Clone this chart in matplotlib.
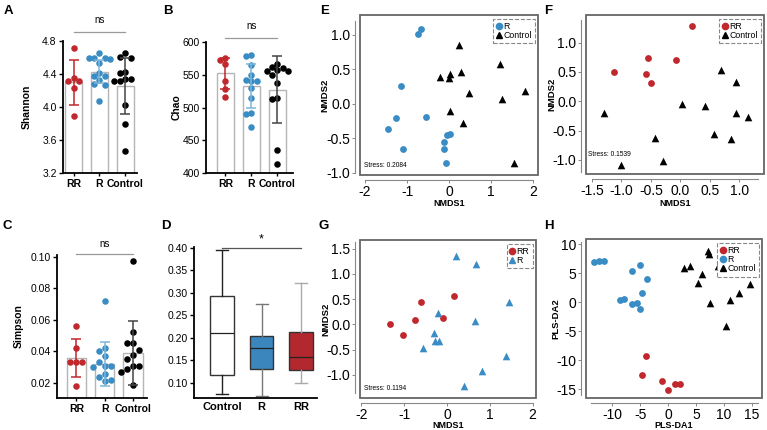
import numpy as np
import matplotlib
matplotlib.use('Agg')
import matplotlib.pyplot as plt
from matplotlib.patches import Rectangle
from matplotlib.lines import Line2D

plt.rcParams['font.family'] = ['Liberation Sans', 'DejaVu Sans']

RED = '#c0282e'
BLUE = '#3a8cc4'
GREY_TXT = '#333333'

#------------------------------------
# Alpha diversity (A-C): groups RR, R, Control
groups = ['RR', 'R', 'Control']

shannon_rr = [4.72, 4.35, 4.31, 4.31, 4.23, 3.89]
shannon_r = [4.65, 4.60, 4.60, 4.59, 4.58, 4.53, 4.41, 4.38, 4.37, 4.33, 4.28, 4.27, 4.07]
shannon_ctrl = [4.66, 4.61, 4.59, 4.42, 4.41, 4.34, 4.32, 4.34, 4.32, 4.02, 3.79, 3.47]
shannon_mean = [4.30, 4.43, 4.26]
shannon_sd = [0.27, 0.14, 0.34]

chao_rr = [576, 572, 567, 540, 529, 516]
chao_r = [580, 578, 565, 550, 542, 541, 540, 530, 515, 492, 490, 470]
chao_ctrl = [566, 562, 560, 557, 556, 555, 550, 537, 515, 513, 435, 414]
chao_mean = [552, 533, 527]
chao_sd = [24, 34, 51]

simpson_rr = [0.0558, 0.0421, 0.033, 0.033, 0.033, 0.0183]
simpson_r = [0.0716, 0.042, 0.040, 0.037, 0.033, 0.031, 0.031, 0.030, 0.026, 0.024, 0.022, 0.021]
simpson_ctrl = [0.097, 0.052, 0.045, 0.045, 0.041, 0.038, 0.035, 0.031, 0.031, 0.029, 0.027, 0.019]
simpson_mean = [0.0358, 0.032, 0.039]
simpson_sd = [0.0123, 0.0142, 0.0205]

#------------------------------------
# Box plot (D)
box_groups = ['Control', 'R', 'RR']
box_whislo = [0.076, 0.071, 0.099]
box_q1 = [0.118, 0.130, 0.129]
box_med = [0.211, 0.177, 0.157]
box_q3 = [0.293, 0.205, 0.213]
box_whishi = [0.396, 0.275, 0.322]

#------------------------------------
# Ordinations (E-H)
e_r_x = [-0.67, -0.75, -1.14, -1.27, -1.46, -0.55, -1.10, 0.02, -0.05, -0.13, -0.11, -0.06]
e_r_y = [1.09, 1.02, 0.26, -0.21, -0.36, -0.19, -0.65, -0.44, -0.45, -0.55, -0.65, -0.85]
e_c_x = [0.23, 1.21, 0.29, 0.02, -0.21, 0.01, 1.82, 0.47, 1.27, 0.02, 0.34, 1.55]
e_c_y = [0.85, 0.58, 0.47, 0.44, 0.39, 0.37, 0.19, 0.16, 0.07, -0.10, -0.28, -0.86]

f_rr_x = [0.19, -0.54, -0.08, -1.12, -0.59, -0.50]
f_rr_y = [1.28, 0.73, 0.71, 0.50, 0.46, 0.31]
f_c_x = [0.69, 0.94, 0.03, 0.42, -1.30, 0.95, 1.15, 0.57, 0.86, -0.43, -0.29, -1.01]
f_c_y = [0.53, 0.32, -0.04, -0.08, -0.20, -0.20, -0.26, -0.56, -0.64, -0.62, -1.02, -1.08]

g_rr_x = [0.16, -0.61, -0.75, -0.09, -1.34, -1.02]
g_rr_y = [0.57, 0.44, 0.09, 0.12, 0.01, -0.22]
g_r_x = [0.22, 0.68, 1.44, -0.20, 0.66, -0.30, -0.29, -0.19, -0.55, 1.38, 0.81, 0.41]
g_r_y = [1.36, 1.20, 0.45, 0.22, 0.06, -0.17, -0.33, -0.33, -0.46, -0.63, -0.92, -1.22]

h_rr_x = [-4.0, -4.75, -1.07, 2.14, 1.25, -0.1]
h_rr_y = [-9.3, -12.65, -13.7, -14.1, -14.2, -15.2]
h_r_x = [-13.4, -12.4, -11.5, -5.0, -6.5, -3.75, -4.8, -8.6, -8.0, -6.5, -5.6, -5.1]
h_r_y = [7.0, 7.1, 7.1, 6.4, 5.3, 4.0, 1.6, 0.34, 0.52, -0.24, -0.12, -1.1]
h_c_x = [7.09, 7.3, 2.86, 3.93, 8.87, 6.07, 5.3, 14.6, 12.6, 11.1, 7.45, 10.3]
h_c_y = [8.85, 8.3, 5.86, 6.26, 6.3, 4.88, 3.27, 3.2, 1.66, 0.4, -0.07, -4.2]

W, H = 767, 430
fig = plt.figure(figsize=(W / 100, H / 100), dpi=100)


def add_ax(left, top, right, bottom):
    return fig.add_axes([left / W, 1 - bottom / H, (right - left) / W, (bottom - top) / H])


def swarm(vals, step, gap):
    vals = np.asarray(vals, dtype=float)
    offs = np.zeros(len(vals))
    placed = []
    for i in np.argsort(-vals, kind='stable'):
        for k in [0, -1, 1, -2, 2, -3, 3]:
            o = k * step
            if all(abs(vals[i] - vals[j]) >= gap or abs(o - offs[j]) >= step * 0.99 for j in placed):
                offs[i] = o
                break
        placed.append(i)
    return offs


def bar_panel(ax, data, means, sds, ylim, yticks, ylabel, xlim, labx, ns_y, line_y, ytick_fmt):
    cols = [RED, BLUE, 'black']
    ecols = [RED, '#7fb6da', '#444444']
    x = np.arange(3)
    ax.bar(x, means, width=0.68, color='white', edgecolor='#b5b5b5', linewidth=1.0, zorder=1)
    gap = (ylim[1] - ylim[0]) * 0.045
    for i, vals in enumerate(data):
        offs = swarm(vals, 0.21, gap)
        ax.scatter(x[i] + offs, vals, s=22, color=cols[i], zorder=3, linewidths=0)
        ax.errorbar(x[i], means[i], yerr=sds[i], color=ecols[i], capsize=3.5,
                    elinewidth=1.1, capthick=1.1, zorder=4)
    ax.set_xlim(*xlim)
    ax.set_ylim(*ylim)
    ax.set_yticks(yticks)
    ax.set_yticklabels([ytick_fmt.format(t) for t in yticks], fontsize=7.5)
    ax.set_xticks(x)
    ax.set_xticklabels(groups, fontsize=7.5, fontweight='bold')
    ax.tick_params(axis='x', length=2.5, width=1, pad=2)
    ax.tick_params(axis='y', length=3, width=1, pad=1.5)
    for s in ['top', 'right']:
        ax.spines[s].set_visible(False)
    for s in ['left', 'bottom']:
        ax.spines[s].set_linewidth(1.3)
    ax.set_ylabel(ylabel, fontsize=7.5, fontweight='bold')
    ax.yaxis.set_label_coords(labx, 0.5)
    tr = ax.get_xaxis_transform()
    ax.plot([0, 2], [line_y, line_y], color='#999999', lw=0.9, transform=tr, clip_on=False)
    ax.text(1, ns_y, 'ns', fontsize=7, ha='center', va='center', transform=tr)


# A
axA = add_ax(63, 41, 137, 173)
bar_panel(axA, [shannon_rr, shannon_r, shannon_ctrl], shannon_mean, shannon_sd,
          (3.2, 4.8), [3.2, 3.6, 4.0, 4.4, 4.8], 'Shannon', (-0.41, 2.45), -0.42, 1.16, 1.068, '{:.1f}')

# B
axB = add_ax(206, 42, 293, 173)
bar_panel(axB, [chao_rr, chao_r, chao_ctrl], chao_mean, chao_sd,
          (400, 600), [400, 450, 500, 550, 600], 'Chao', (-0.75, 2.6), -0.28, 1.12, 1.03, '{:.0f}')

# C
axC = add_ax(57, 255, 147, 398)
bar_panel(axC, [simpson_rr, simpson_r, simpson_ctrl], simpson_mean, simpson_sd,
          (0.0105, 0.101), [0.02, 0.04, 0.06, 0.08, 0.10], 'Simpson', (-0.68, 2.49), -0.37, 1.08, 1.007, '{:.2f}')

# D
axD = add_ax(194, 247, 317, 398)
stats = []
for i, g in enumerate(box_groups):
    stats.append(dict(label=g, whislo=box_whislo[i], q1=box_q1[i], med=box_med[i],
                      q3=box_q3[i], whishi=box_whishi[i], fliers=[]))
bp = axD.bxp(stats, positions=[0, 1, 2], widths=0.6, patch_artist=True, showfliers=False)
fills = ['white', '#3b87bd', '#b3282e']
wcols = ['#222222', '#777777', '#aaaaaa']
for i in range(3):
    bp['boxes'][i].set(facecolor=fills[i], edgecolor='#333333', linewidth=1.0)
    bp['medians'][i].set(color='#222222', linewidth=0.9)
    for k in (2 * i, 2 * i + 1):
        bp['whiskers'][k].set(color=wcols[i], linewidth=1.0)
        bp['caps'][k].set(color=wcols[i], linewidth=1.0)
axD.set_xlim(-0.71, 2.4)
axD.set_ylim(0.0667, 0.402)
axD.set_yticks([0.10, 0.15, 0.20, 0.25, 0.30, 0.35, 0.40])
axD.set_yticklabels(['{:.2f}'.format(t) for t in [0.10, 0.15, 0.20, 0.25, 0.30, 0.35, 0.40]], fontsize=7.5)
axD.set_xticklabels(box_groups, fontsize=8, fontweight='bold')
axD.tick_params(axis='x', length=0, pad=3)
axD.tick_params(axis='y', length=3, width=1, pad=1.5)
for s in ['top', 'right']:
    axD.spines[s].set_visible(False)
for s in ['left', 'bottom']:
    axD.spines[s].set_linewidth(1.3)
axD.plot([0, 2], [0.40, 0.40], color='#555555', lw=0.9, clip_on=False)
axD.text(1.0, 1.05, '*', fontsize=9, ha='center', va='center', transform=axD.get_xaxis_transform())


def ord_panel(ax, series, xlim, ylim, xticks, yticks, xb, yb, xlabel, ylabel, labx, laby,
              stress, sx, sy, xfmt, yfmt):
    for xs, ys, c, m, lab in series:
        ax.scatter(xs, ys, s=24 if m == 'o' else 30, marker=m, color=c, linewidths=0, zorder=3)
    ax.set_xlim(*xlim)
    ax.set_ylim(*ylim)
    ax.set_xticks(xticks)
    ax.set_yticks(yticks)
    ax.set_xticklabels([xfmt.format(t) for t in xticks], fontsize=5.0, color=GREY_TXT)
    ax.set_yticklabels([yfmt.format(t) for t in yticks], fontsize=5.0, color=GREY_TXT)
    for s in ['top', 'right']:
        ax.spines[s].set_visible(False)
    ax.spines['left'].set_position(('outward', 3.5))
    ax.spines['bottom'].set_position(('outward', 3.5))
    ax.spines['left'].set_bounds(*yb)
    ax.spines['bottom'].set_bounds(*xb)
    for s in ['left', 'bottom']:
        ax.spines[s].set_color('#888888')
        ax.spines[s].set_linewidth(0.8)
    ax.tick_params(length=2.5, width=0.7, color='#888888', pad=1.0)
    ax.add_patch(Rectangle((0, 0), 1, 1, transform=ax.transAxes, fill=False,
                           edgecolor='#666666', linewidth=1.3, clip_on=False, zorder=5))
    ax.set_xlabel(xlabel, fontsize=6.5, fontweight='bold')
    ax.set_ylabel(ylabel, fontsize=6.8, fontweight='bold')
    ax.xaxis.set_label_coords(0.5, laby)
    ax.yaxis.set_label_coords(labx, 0.5)
    if stress:
        ax.text(sx, sy, 'Stress: ' + stress, fontsize=4.8, transform=ax.transAxes, va='center')
    handles = [Line2D([], [], marker=m, color=c, linestyle='none', markersize=4.5 if m == 'o' else 5)
               for _, _, c, m, _ in series]
    leg = ax.legend(handles, [s[4] for s in series], loc='upper right', fontsize=6.3,
                    handlelength=0.6, handletextpad=0.2, borderpad=0.35, labelspacing=0.05,
                    borderaxespad=0.4, fancybox=False, edgecolor='#888888', framealpha=1)
    leg.get_frame().set_linestyle('--')
    leg.get_frame().set_linewidth(0.8)


# E
axE = add_ax(360, 15, 538, 175)
ord_panel(axE, [(e_r_x, e_r_y, BLUE, 'o', 'R'), (e_c_x, e_c_y, 'black', '^', 'Control')],
          (-2.12, 2.12), (-1.03, 1.29), [-2, -1, 0, 1, 2], [-1.0, -0.5, 0.0, 0.5, 1.0],
          (-2, 2), (-1.0, 1.2), 'NMDS1', 'NMDS2', -0.17, -0.15, '0.2084', 0.02, 0.06,
          '{:.0f}', '{:.1f}')

# F
axF = add_ax(586, 15, 764, 174)
ord_panel(axF, [(f_rr_x, f_rr_y, RED, 'o', 'RR'), (f_c_x, f_c_y, 'black', '^', 'Control')],
          (-1.60, 1.42), (-1.24, 1.47), [-1.5, -1.0, -0.5, 0.0, 0.5, 1.0], [-1.0, -0.5, 0.0, 0.5, 1.0],
          (-1.5, 1.32), (-1.21, 1.38), 'NMDS1', 'NMDS2', -0.165, -0.155, '0.1539', 0.01, 0.12,
          '{:.1f}', '{:.1f}')

# G
axG = add_ax(360, 240, 536, 398)
ord_panel(axG, [(g_rr_x, g_rr_y, RED, 'o', 'RR'), (g_r_x, g_r_y, BLUE, '^', 'R')],
          (-2.03, 2.08), (-1.46, 1.67), [-2, -1, 0, 1, 2], [-1.0, -0.5, 0.0, 0.5, 1.0, 1.5],
          (-2, 2), (-1.37, 1.64), 'NMDS1', 'NMDS2', -0.17, -0.148, '0.1194', 0.02, 0.06,
          '{:.0f}', '{:.1f}')

# H
axH = add_ax(586, 239, 762, 398)
ord_panel(axH, [(h_rr_x, h_rr_y, RED, 'o', 'RR'), (h_r_x, h_r_y, BLUE, 'o', 'R'),
                (h_c_x, h_c_y, 'black', '^', 'Control')],
          (-14.75, 16.8), (-16.55, 10.9), [-10, -5, 0, 5, 10, 15], [-15, -10, -5, 0, 5, 10],
          (-13.9, 16.0), (-16.0, 10.45), 'PLS-DA1', 'PLS-DA2', -0.145, -0.147, None, 0.02, 0.06,
          '{:.0f}', '{:.0f}')

# Panel letters
for lab, px, py in [('A', 8, 11), ('B', 168, 11), ('C', 7, 226), ('D', 166, 226),
                    ('E', 325, 11), ('F', 548, 11), ('G', 324, 226), ('H', 549, 226)]:
    fig.text(px / W, 1 - py / H, lab, fontsize=9.5, fontweight='bold', ha='center', va='center')

fig.savefig('out.png', dpi=100)
